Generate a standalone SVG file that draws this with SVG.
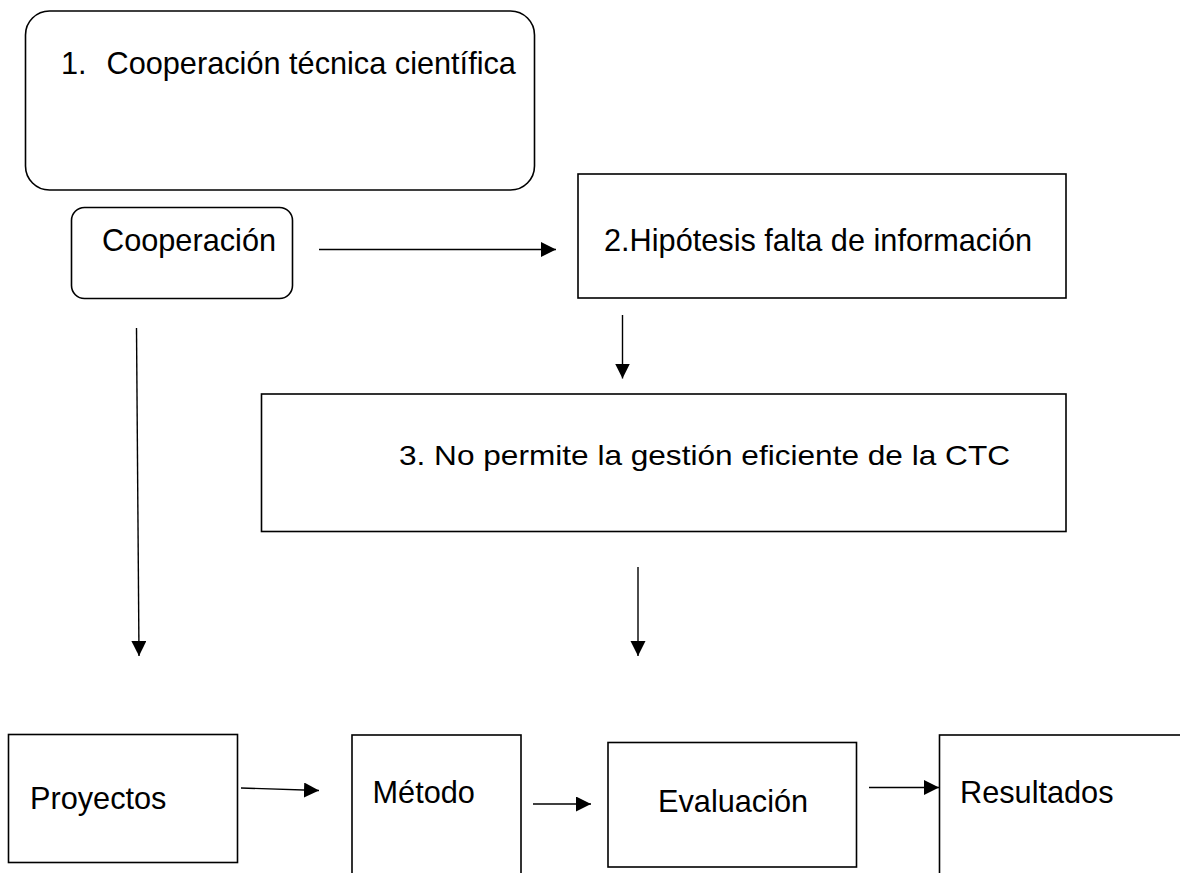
<svg xmlns="http://www.w3.org/2000/svg" width="1180" height="873" viewBox="0 0 1180 873">
<style>
.box{fill:#fff;stroke:#000;stroke-width:1.6}
.lbl{font-family:"Liberation Sans",Arial,sans-serif;font-size:30.7px;fill:#000}
.con{stroke:#000;stroke-width:1.4;fill:none;marker-end:url(#ah)}
</style>
<defs>
<marker id="ah" markerUnits="userSpaceOnUse" markerWidth="16" markerHeight="16" refX="15" refY="7.5" orient="auto">
<path d="M0,0 L15,7.5 L0,15 Z" fill="#000"/>
</marker>
</defs>
<rect width="1180" height="873" fill="#fff"/>
<g id="n1">
<rect class="box" x="25.5" y="11" width="509" height="179" rx="24" ry="24"/>
<text class="lbl" x="61" y="74">1.</text>
<text class="lbl" x="106.5" y="74">Cooperación técnica científica</text>
</g>
<g id="cooperacion">
<rect class="box" x="71.5" y="207.5" width="221" height="91" rx="13" ry="13"/>
<text class="lbl" x="102" y="250.5">Cooperación</text>
</g>
<g id="n2">
<rect class="box" x="578" y="174" width="488" height="124"/>
<text class="lbl" x="604" y="251">2.Hipótesis falta de información</text>
</g>
<g id="n3">
<rect class="box" x="261.5" y="394" width="804.5" height="137.5"/>
<text class="lbl" x="399" y="465" style="font-size:28px" textLength="611" lengthAdjust="spacingAndGlyphs">3. No permite la gestión eficiente de la  CTC</text>
</g>
<g id="proyectos">
<rect class="box" x="8.5" y="734.5" width="229" height="128"/>
<text class="lbl" x="30" y="809">Proyectos</text>
</g>
<g id="metodo">
<rect class="box" x="352" y="735" width="169" height="200"/>
<text class="lbl" x="372.5" y="803">Método</text>
</g>
<g id="evaluacion">
<rect class="box" x="608" y="742.5" width="248.5" height="124.5"/>
<text class="lbl" x="658" y="811.5">Evaluación</text>
</g>
<g id="resultados">
<rect class="box" x="939.5" y="735" width="300" height="200"/>
<text class="lbl" x="960" y="802.5">Resultados</text>
</g>
<g id="connectors">
<line class="con" x1="319" y1="249.5" x2="556" y2="249.5"/>
<line class="con" x1="622.5" y1="315" x2="622.5" y2="378.5"/>
<line class="con" x1="136.5" y1="328" x2="139" y2="656"/>
<line class="con" x1="638" y1="567" x2="638" y2="656"/>
<line class="con" x1="241" y1="788" x2="319" y2="790.5"/>
<line class="con" x1="533" y1="804" x2="591" y2="804"/>
<line class="con" x1="869" y1="787.5" x2="939" y2="787.5"/>
</g>
</svg>
